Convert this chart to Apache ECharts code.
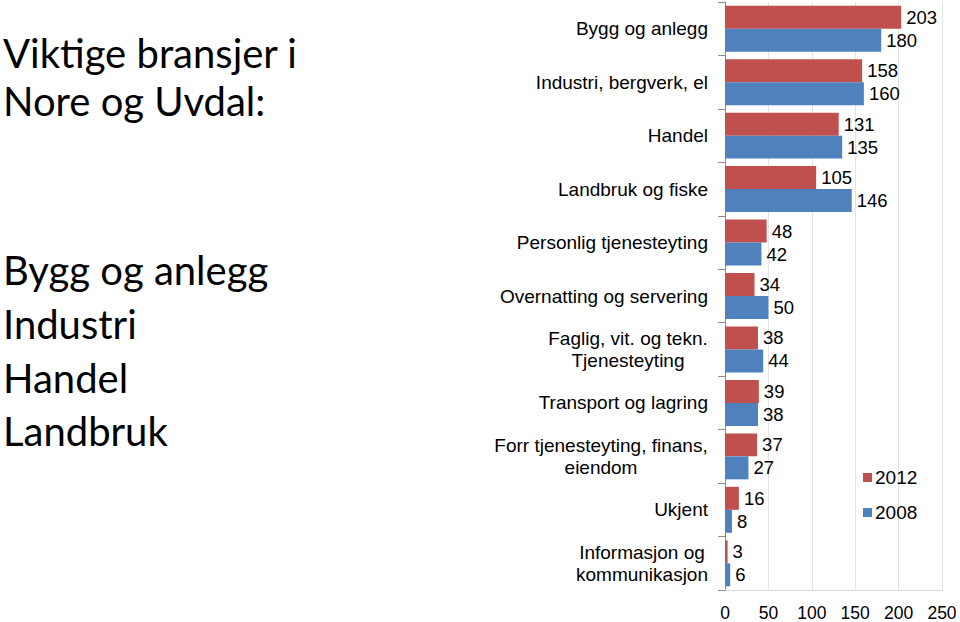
<!DOCTYPE html>
<html><head><meta charset="utf-8">
<script src="https://cdn.jsdelivr.net/npm/echarts@6/dist/echarts.min.js"></script>
<style>html,body{margin:0;padding:0;background:#fff}#c{width:960px;height:622px}#c text{font-variant-ligatures:none;font-feature-settings:"liga" 0}</style>
</head><body><div id="c"></div>
<script>
const categories = ["Bygg og anlegg","Industri, bergverk, el","Handel","Landbruk og fiske","Personlig tjenesteyting","Overnatting og servering","Faglig, vit. og tekn.\nTjenesteyting","Transport og lagring","Forr tjenesteyting, finans,\neiendom","Ukjent","Informasjon og\nkommunikasjon"];
const values2012 = [203,158,131,105,48,34,38,39,37,16,3];
const values2008 = [180,160,135,146,42,50,44,38,27,8,6];
const seriesNames = ["2012","2008"];
const xTicks = [0,50,100,150,200,250];
const titleLines1 = ["Viktige bransjer i","Nore og Uvdal:"];
const titleLines2 = ["Bygg og anlegg","Industri","Handel","Landbruk"];

const FONT = '"Liberation Sans", Arial, sans-serif';
const cv = document.createElement('canvas').getContext('2d');
cv.font = '19px "Liberation Sans"';
const rich = {};
function fmt(v){
  if (v.indexOf('\n') < 0) return v;
  const lines = v.split('\n');
  const w = Math.ceil(Math.max.apply(null, lines.map(l => cv.measureText(l).width)));
  rich['c' + w] = {width: w, align: 'center', fontSize: 19, fontFamily: FONT, color: '#000', lineHeight: 22};
  return lines.map(l => '{c' + w + '|' + l + '}').join('\n');
}
categories.forEach(fmt);

const chart = echarts.init(document.getElementById('c'), null, {renderer: 'svg'});
const graphics = [];
const base1 = [72, 120];
const base2 = [289, 343, 397, 450];
titleLines1.forEach((t, i) => graphics.push({type: 'text', left: 3, top: base1[i] - 40 * 0.987,
  style: {text: t, font: '40px Lato', fill: '#000'}}));
titleLines2.forEach((t, i) => graphics.push({type: 'text', left: 3, top: base2[i] - 40 * 0.987,
  style: {text: t, font: '40px Lato', fill: '#000'}}));

chart.setOption({
  animation: false,
  graphic: graphics,
  grid: {left: 725, right: 18, top: 2, bottom: 30, containLabel: false},
  legend: {
    orient: 'vertical', left: 858, top: 463, itemWidth: 9, itemHeight: 9, itemGap: 16,
    icon: 'rect',
    textStyle: {fontSize: 19, fontFamily: FONT, color: '#000', padding: [0, 0, 0, -2]},
    data: seriesNames
  },
  xAxis: {
    type: 'value', min: 0, max: 250, interval: 50,
    axisLine: {show: true, lineStyle: {color: '#d9d9d9'}},
    axisTick: {show: false},
    splitLine: {show: true, lineStyle: {color: '#e3e3e3'}},
    axisLabel: {fontSize: 17.5, fontFamily: FONT, color: '#000', margin: 14}
  },
  yAxis: {
    type: 'category', inverse: true, data: categories,
    axisLine: {show: true, lineStyle: {color: '#8c8c8c'}},
    axisTick: {show: true, length: 7, lineStyle: {color: '#8c8c8c'}},
    axisLabel: {fontSize: 19, fontFamily: FONT, color: '#000', margin: 17, lineHeight: 22, formatter: fmt, rich: rich}
  },
  series: [
    {name: seriesNames[0], type: 'bar', data: values2012, barGap: '0%', barCategoryGap: '14%',
     itemStyle: {color: '#C0504D'},
     label: {show: true, position: 'right', distance: 5, fontSize: 18.5, fontFamily: FONT, color: '#000'}},
    {name: seriesNames[1], type: 'bar', data: values2008, barGap: '0%', barCategoryGap: '14%',
     itemStyle: {color: '#4F81BD'},
     label: {show: true, position: 'right', distance: 5, fontSize: 18.5, fontFamily: FONT, color: '#000'}}
  ]
});
</script></body></html>
